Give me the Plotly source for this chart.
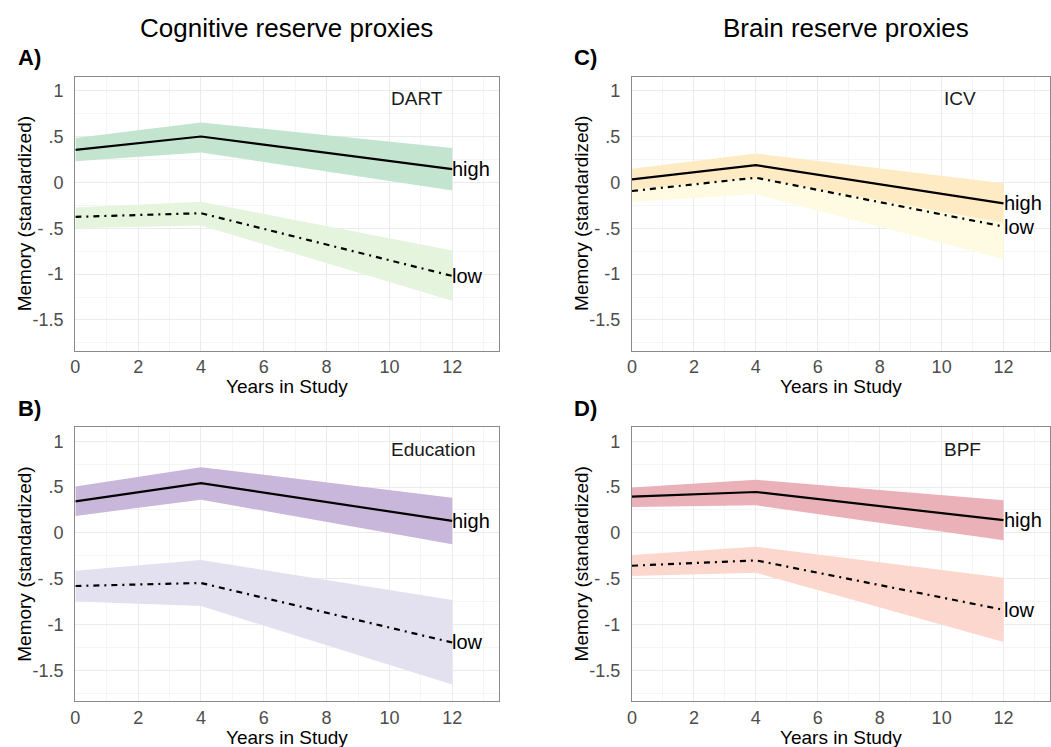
import plotly.graph_objects as go

W, H = 1051, 747

years = [0, 4, 12]

# Panel A: DART
dart_high = [0.355, 0.50, 0.145]
dart_high_up = [0.483, 0.654, 0.374]
dart_high_lo = [0.23, 0.327, -0.088]
dart_low = [-0.376, -0.336, -1.02]
dart_low_up = [-0.274, -0.212, -0.743]
dart_low_lo = [-0.50, -0.47, -1.29]

# Panel B: Education
edu_high = [0.344, 0.543, 0.13]
edu_high_up = [0.507, 0.717, 0.384]
edu_high_lo = [0.185, 0.362, -0.123]
edu_low = [-0.58, -0.547, -1.196]
edu_low_up = [-0.413, -0.297, -0.732]
edu_low_lo = [-0.75, -0.797, -1.656]

# Panel C: ICV
icv_high = [0.033, 0.188, -0.228]
icv_high_up = [0.149, 0.315, -0.01]
icv_high_lo = [-0.076, 0.05, -0.44]
icv_low = [-0.094, 0.051, -0.482]
icv_low_up = [0.0, 0.18, -0.18]
icv_low_lo = [-0.214, -0.13, -0.837]

# Panel D: BPF
bpf_high = [0.395, 0.446, 0.138]
bpf_high_up = [0.496, 0.58, 0.355]
bpf_high_lo = [0.283, 0.30, -0.08]
bpf_low = [-0.359, -0.30, -0.84]
bpf_low_up = [-0.243, -0.152, -0.489]
bpf_low_lo = [-0.47, -0.435, -1.19]

y_tickvals = [1, 0.5, 0, -0.5, -1, -1.5]
y_ticktext = ["1", ".5", "0", "- .5", "-1", "-1.5"]
x_tickvals = [0, 2, 4, 6, 8, 10, 12]
x_ticktext = ["0", "2", "4", "6", "8", "10", "12"]

FONT = "Liberation Sans, Arial, sans-serif"

panels = [
    dict(name="DART", ax="", label="A)",
         high=dart_high, high_up=dart_high_up, high_lo=dart_high_lo,
         low=dart_low, low_up=dart_low_up, low_lo=dart_low_lo,
         c_high="#c3e5cf", c_low="#e4f4dd", box=(70.7, 76.7, 496.7, 350.7)),
    dict(name="ICV", ax="2", label="C)",
         high=icv_high, high_up=icv_high_up, high_lo=icv_high_lo,
         low=icv_low, low_up=icv_low_up, low_lo=icv_low_lo,
         c_high="#feebc4", c_low="#fffbe3", box=(630.0, 76.7, 1050.0, 350.7)),
    dict(name="Education", ax="3", label="B)",
         high=edu_high, high_up=edu_high_up, high_lo=edu_high_lo,
         low=edu_low, low_up=edu_low_up, low_lo=edu_low_lo,
         c_high="#c8b7db", c_low="#e3e1ef", box=(70.7, 427.3, 496.7, 701.0)),
    dict(name="BPF", ax="4", label="D)",
         high=bpf_high, high_up=bpf_high_up, high_lo=bpf_high_lo,
         low=bpf_low, low_up=bpf_low_up, low_lo=bpf_low_lo,
         c_high="#ebb1b9", c_low="#fcd7cd", box=(630.0, 427.3, 1050.0, 701.0)),
]

fig = go.Figure()
annotations = []
layout_axes = {}

for p in panels:
    xa = "x" + p["ax"]
    ya = "y" + p["ax"]
    for up, lo, col in ((p["low_up"], p["low_lo"], p["c_low"]),
                        (p["high_up"], p["high_lo"], p["c_high"])):
        fig.add_trace(go.Scatter(
            x=years + years[::-1], y=up + lo[::-1], fill="toself",
            fillcolor=col, line=dict(width=0), mode="lines",
            hoverinfo="skip", showlegend=False, xaxis=xa, yaxis=ya))
    fig.add_trace(go.Scatter(
        x=years, y=p["high"], mode="lines",
        line=dict(color="black", width=2.2), showlegend=False,
        xaxis=xa, yaxis=ya))
    fig.add_trace(go.Scatter(
        x=years, y=p["low"], mode="lines",
        line=dict(color="black", width=2.2, dash="6px,5px,2px,5px"),
        showlegend=False, xaxis=xa, yaxis=ya))

    l, t, r, b = p["box"]
    xdom = [l / W, r / W]
    ydom = [1 - b / H, 1 - t / H]
    xkey = "xaxis" + p["ax"]
    ykey = "yaxis" + p["ax"]
    layout_axes[xkey] = dict(
        domain=xdom, range=[0, 13.5], anchor=ya,
        tickvals=x_tickvals, ticktext=x_ticktext,
        tickfont=dict(size=18, color="#4d4d4d", family=FONT),
        showgrid=True, gridcolor="#ebebeb", gridwidth=1,
        minor=dict(dtick=1, tick0=0, showgrid=True, gridcolor="#f5f5f5", gridwidth=1),
        showline=True, linecolor="#8a8a8a", linewidth=1.3, mirror=True,
        zeroline=False, ticks="", ticklen=0, ticklabelstandoff=0, fixedrange=True)
    layout_axes[ykey] = dict(
        domain=ydom, range=[-1.835, 1.152], anchor=xa,
        tickvals=y_tickvals, ticktext=y_ticktext,
        tickfont=dict(size=18, color="#4d4d4d", family=FONT),
        showgrid=True, gridcolor="#ebebeb", gridwidth=1,
        minor=dict(dtick=0.25, tick0=0, showgrid=True, gridcolor="#f5f5f5", gridwidth=1),
        showline=True, linecolor="#8a8a8a", linewidth=1.3, mirror=True,
        zeroline=False, ticks="", ticklen=0, ticklabelstandoff=7, fixedrange=True)

    annotations.append(dict(
        x=10, y=0.91, xref=xa, yref=ya, text=p["name"], showarrow=False,
        xanchor="left", yanchor="middle",
        font=dict(size=19, color="#1a1a1a", family=FONT)))
    annotations.append(dict(
        x=12, y=p["high"][-1], xref=xa, yref=ya, text="high", showarrow=False,
        xanchor="left", yanchor="middle", xshift=-2,
        font=dict(size=20, color="black", family=FONT)))
    annotations.append(dict(
        x=12, y=p["low"][-1], xref=xa, yref=ya, text="low", showarrow=False,
        xanchor="left", yanchor="middle", xshift=-2,
        font=dict(size=20, color="black", family=FONT)))
    annotations.append(dict(
        x=(l - 60) / W, y=1 - (t - 19) / H, xref="paper", yref="paper",
        text="<b>" + p["label"] + "</b>", showarrow=False,
        xanchor="left", yanchor="middle",
        font=dict(size=22, color="black", family=FONT)))
    annotations.append(dict(
        x=(l - 51) / W, y=1 - ((t + b) / 2) / H, xref="paper", yref="paper",
        text="Memory (standardized)", showarrow=False, textangle=-90,
        xanchor="center", yanchor="middle",
        font=dict(size=19, color="black", family=FONT)))
    annotations.append(dict(
        x=((l + r) / 2) / W, y=1 - (b + 36) / H, xref="paper", yref="paper",
        text="Years in Study", showarrow=False,
        xanchor="center", yanchor="middle",
        font=dict(size=19, color="black", family=FONT)))

annotations.append(dict(
    x=283 / W, y=1 - 28 / H, xref="paper", yref="paper",
    text="Cognitive reserve proxies", showarrow=False,
    xanchor="center", yanchor="middle",
    font=dict(size=26, color="black", family=FONT)))
annotations.append(dict(
    x=845 / W, y=1 - 28 / H, xref="paper", yref="paper",
    text="Brain reserve proxies", showarrow=False,
    xanchor="center", yanchor="middle",
    font=dict(size=26, color="black", family=FONT)))

fig.update_layout(
    width=W, height=H,
    margin=dict(l=0, r=0, t=0, b=0),
    paper_bgcolor="white", plot_bgcolor="white",
    showlegend=False,
    annotations=annotations,
    **layout_axes,
)

fig.write_html(
    "out.html",
    config={"displayModeBar": False},
    post_script="document.body.style.margin='0';document.body.style.overflow='hidden';",
)
